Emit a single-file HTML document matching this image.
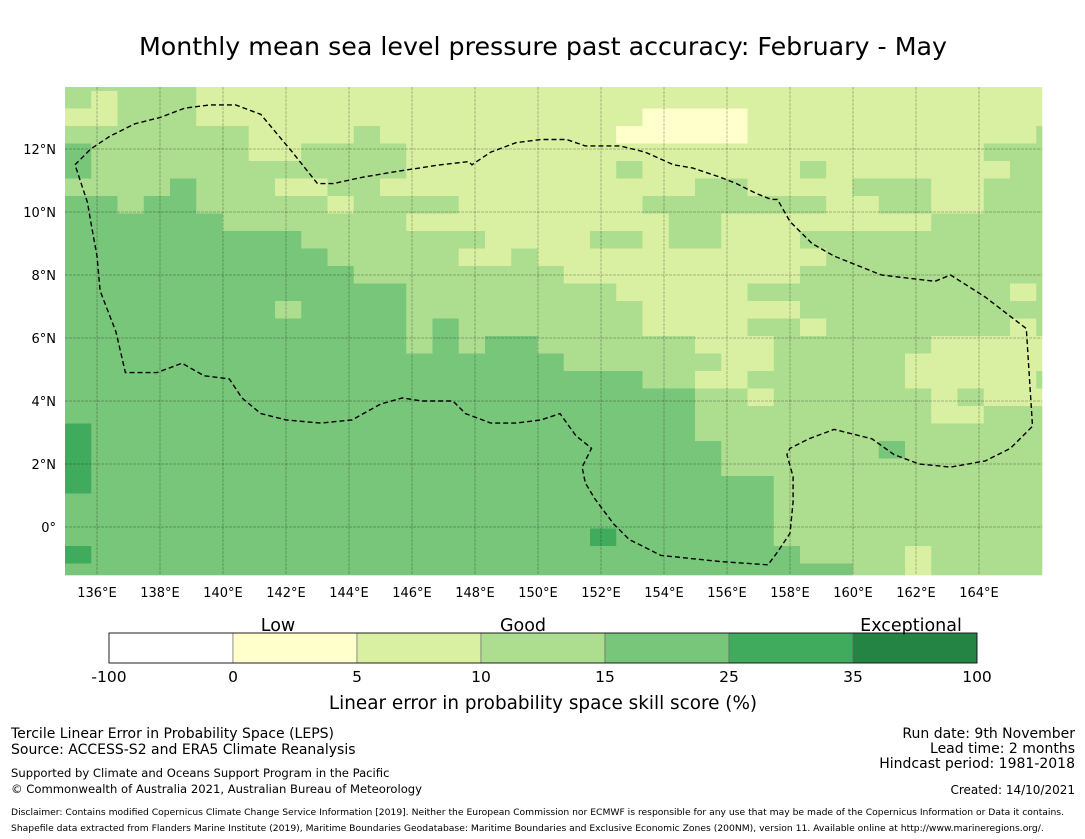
<!DOCTYPE html>
<html><head><meta charset="utf-8">
<style>
body{margin:0;background:#fff;font-family:"Liberation Sans","DejaVu Sans",sans-serif;}
svg{display:block}
</style></head>
<body>
<svg id="chart" width="1085" height="839" viewBox="0 0 1085 839" xmlns="http://www.w3.org/2000/svg" font-family="DejaVu Sans, Liberation Sans, sans-serif">
<text x="543" y="55" text-anchor="middle" font-size="25.3">Monthly mean sea level pressure past accuracy: February - May</text>
<g id="map"></g>
<g id="grid"></g>
<polyline id="eez" fill="none" stroke="#000" stroke-width="1.4" stroke-dasharray="5,3"/>
<g id="xticks" font-size="13"></g>
<g id="yticks" font-size="13"></g>
<g id="cbar"></g>
<text x="278" y="631" text-anchor="middle" font-size="17.5">Low</text>
<text x="523" y="631" text-anchor="middle" font-size="17.5">Good</text>
<text x="911" y="631" text-anchor="middle" font-size="17.5">Exceptional</text>
<text x="543" y="709" text-anchor="middle" font-size="18.4">Linear error in probability space skill score (%)</text>
<g font-size="14">
<text x="11" y="738">Tercile Linear Error in Probability Space (LEPS)</text>
<text x="11" y="754">Source: ACCESS-S2 and ERA5 Climate Reanalysis</text>
</g>
<g font-size="11.6">
<text x="11" y="777">Supported by Climate and Oceans Support Program in the Pacific</text>
<text x="11" y="793">© Commonwealth of Australia 2021, Australian Bureau of Meteorology</text>
</g>
<g font-size="14" text-anchor="end">
<text x="1075" y="738">Run date: 9th November</text>
<text x="1075" y="753">Lead time: 2 months</text>
<text x="1075" y="768">Hindcast period: 1981-2018</text>
<text x="1075" y="794" font-size="12">Created: 14/10/2021</text>
</g>
<g font-size="9.2">
<text x="11" y="815">Disclaimer: Contains modified Copernicus Climate Change Service Information [2019]. Neither the European Commission nor ECMWF is responsible for any use that may be made of the Copernicus Information or Data it contains.</text>
<text x="11" y="831">Shapefile data extracted from Flanders Marine Institute (2019), Maritime Boundaries Geodatabase: Maritime Boundaries and Exclusive Economic Zones (200NM), version 11. Available online at http://www.marineregions.org/.</text>
</g>
</svg>
<script>
// Category grid rows (run-length: category x count), 38 columns per row, top row first
const gridRows = [
"3x5,2x33","3x1,2x1,3x3,2x33","2x2,3x3,2x17,1x4,2x12","3x7,2x4,3x1,2x9,1x5,2x11,3x1",
"4x1,3x6,2x2,3x4,2x22,3x3","4x1,3x12,2x8,3x1,2x6,3x1,2x7,3x2",
"3x4,4x1,3x3,2x2,3x2,2x12,3x2,2x4,3x3,2x2,3x3",
"4x2,3x1,4x2,3x5,2x1,3x4,2x7,3x7,2x2,3x2,2x2,3x3",
"4x6,3x7,2x10,3x2,2x8,3x5","4x9,3x7,2x4,3x2,2x1,3x2,2x3,3x10",
"4x10,3x5,2x2,3x1,2x11,3x9","4x11,3x8,2x9,3x10","4x13,3x8,2x5,3x10,2x1,3x1",
"4x8,3x1,4x4,3x9,2x6,3x10","4x13,3x1,4x1,3x7,2x4,3x2,2x1,3x7,2x1,3x1",
"4x13,3x1,4x1,3x1,4x2,3x6,2x3,3x6,2x5","4x19,3x6,2x2,3x5,2x6",
"4x22,3x2,2x2,3x6,2x5,3x1","4x24,3x2,2x1,3x6,2x1,3x1,2x3","4x24,3x9,2x2,3x3",
"5x1,4x23,3x14","5x1,4x24,3x6,4x1,3x6","5x1,4x24,3x13","5x1,4x26,3x11",
"4x27,3x11","4x27,3x11","4x20,5x1,4x6,3x11","5x1,4x27,3x4,2x1,3x5","4x30,3x2,2x1,3x5"
];
const binEdges = [-100,0,5,10,15,25,35,100];
const binColors = ["#ffffff","#ffffcc","#d9f0a3","#addd8e","#78c679","#41ab5d","#238443"];
const lonTicks = [136,138,140,142,144,146,148,150,152,154,156,158,160,162,164];
const latTicks = [12,10,8,6,4,2,0];
// EEZ boundary vertices (lon, lat)
const eezLon = [135.3,135.8,136.4,137.2,138.0,138.8,139.6,140.4,141.2,142.2,143.0,143.5,144.4,145.6,146.9,147.8,147.9,148.5,149.3,150.1,150.9,151.5,152.0,152.6,153.4,154.3,154.9,155.8,156.3,156.9,157.4,157.6,158.0,158.7,159.4,160.9,162.6,163.1,164.2,165.5,165.7,165.5,165.0,164.2,163.1,162.1,161.3,160.6,159.4,158.6,158.0,157.9,158.1,158.1,158.0,157.6,157.3,155.8,153.9,152.9,152.4,151.8,151.5,151.4,151.7,151.2,150.7,150.1,149.3,148.5,147.7,147.3,146.3,145.7,145.0,144.1,143.1,142.0,141.2,140.6,140.2,139.4,138.7,137.9,136.9,136.6,136.1,136.0,135.8,135.7,135.3];
const eezLat = [11.5,12.0,12.4,12.8,13.0,13.3,13.4,13.4,13.1,11.9,10.9,10.9,11.1,11.3,11.5,11.6,11.5,11.9,12.2,12.3,12.3,12.1,12.1,12.1,11.9,11.5,11.4,11.1,10.9,10.6,10.4,10.4,9.7,9.0,8.6,8.0,7.8,8.0,7.3,6.3,3.2,3.0,2.5,2.1,1.9,2.0,2.3,2.8,3.1,2.8,2.5,2.3,1.6,0.8,-0.2,-0.8,-1.2,-1.1,-0.9,-0.4,0.1,0.9,1.4,1.9,2.5,2.9,3.6,3.4,3.3,3.3,3.6,4.0,4.0,4.1,3.9,3.4,3.3,3.4,3.6,4.1,4.7,4.8,5.2,4.9,4.9,6.2,7.5,8.6,9.7,10.3,11.5];

const NS="http://www.w3.org/2000/svg";
const X0=65,X1=1042,Y0=87,Y1=575;
const lonToX = lon => 97 + (lon-136)*31.5;
const latToY = lat => 527 - lat*31.5;
const cellW=26.25, cellH=17.5;
const colX = c => X0 + c*cellW;
const rowY = r => 73.5 + r*cellH;
function mk(tag,attrs,parent){const e=document.createElementNS(NS,tag);for(const k in attrs)e.setAttribute(k,attrs[k]);parent.appendChild(e);return e;}

const map=document.getElementById('map');
const bg=mk('rect',{x:X0,y:Y0,width:X1-X0,height:Y1-Y0,fill:binColors[3]},map);


gridRows.forEach((rle,r)=>{
  let c=0;
  rle.split(',').forEach(run=>{
    const [cat,n]=run.split('x').map(Number);
    const x=colX(c), w=cellW*n;
    let y=rowY(r), y2=y+cellH;
    const xa=Math.max(x,X0), xb=Math.min(x+w,X1);
    const ya=Math.max(y,Y0), yb=Math.min(y2,Y1);
    if(xb>xa && yb>ya){
      const cell=mk('rect',{x:xa,y:ya,width:xb-xa+0.3,height:yb-ya+0.3,fill:binColors[cat]},map);
      
      
    }
    c+=n;
  });
});

const grid=document.getElementById('grid');
lonTicks.forEach(lon=>{
  const l=mk('line',{x1:lonToX(lon),x2:lonToX(lon),y1:Y0,y2:Y1,stroke:'rgba(0,0,0,0.25)','stroke-width':1,'stroke-dasharray':'3,1'},grid);
  
  
  const t=mk('text',{x:lonToX(lon),y:597,'text-anchor':'middle'},document.getElementById('xticks'));
  t.textContent=lon+'°E';
  
  
});
latTicks.forEach(lat=>{
  const l=mk('line',{x1:X0,x2:X1,y1:latToY(lat),y2:latToY(lat),stroke:'rgba(0,0,0,0.25)','stroke-width':1,'stroke-dasharray':'3,1'},grid);
  
  
  const t=mk('text',{x:56,y:latToY(lat)+5,'text-anchor':'end'},document.getElementById('yticks'));
  t.textContent=lat===0?'0°':lat+'°N';
  
  
});

document.getElementById('eez').setAttribute('points',eezLon.map((lo,i)=>lonToX(lo).toFixed(1)+','+latToY(eezLat[i]).toFixed(1)).join(' '));

const cbar=document.getElementById('cbar');
const cbX0=109,cbW=124,cbY=633,cbH=30;
binColors.forEach((col,i)=>{
  const r=mk('rect',{x:cbX0+i*cbW,y:cbY,width:cbW,height:cbH,fill:col,stroke:'#666','stroke-width':0.6},cbar);
  
  
});
mk('rect',{x:cbX0,y:cbY,width:cbW*7,height:cbH,fill:'none',stroke:'#000','stroke-width':0.8},cbar);
binEdges.forEach((v,i)=>{
  const t=mk('text',{x:cbX0+i*cbW,y:682,'text-anchor':'middle','font-size':15.5},cbar);
  t.textContent=v;
  
  
});
</script>
</body></html>
